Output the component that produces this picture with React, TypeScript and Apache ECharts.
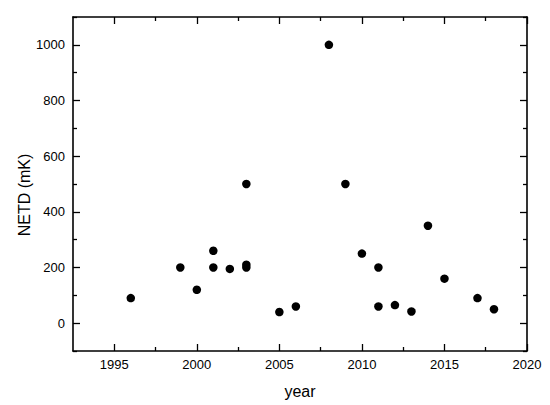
import React, { useEffect, useRef } from "react";
import * as echarts from "echarts";

const years = [1996, 1999, 2000, 2001, 2001, 2002, 2003, 2003, 2003, 2005, 2006, 2008, 2009, 2010, 2011, 2011, 2012, 2013, 2014, 2015, 2017, 2018];
const netd = [90, 200, 120, 260, 200, 195, 210, 200, 500, 40, 60, 1000, 500, 250, 200, 60, 65, 42, 350, 160, 90, 50];
const xMajor = [1995, 2000, 2005, 2010, 2015, 2020];
const xMinor = [1997.5, 2002.5, 2007.5, 2012.5, 2017.5];
const yMajor = [0, 200, 400, 600, 800, 1000];
const yMinor = [-100, 100, 300, 500, 700, 900, 1100];

const FONT = "Liberation Sans";

export default function App() {
  const ref = useRef<HTMLDivElement>(null);
  useEffect(() => {
    if (!ref.current) return;
    const chart = echarts.init(ref.current, undefined, { renderer: "svg" });
    const lineStyle = { color: "#000", width: 1.6 };
    const fmt = (v: number) => String(v);
    const mkX = (pos: string, ticks: number[], len: number, labels: boolean, line: boolean, name?: string) => ({
      type: "value",
      position: pos,
      min: 1992.5,
      max: 2020,
      name,
      nameLocation: "middle",
      nameGap: 32,
      nameTextStyle: { fontFamily: FONT, fontSize: 16, color: "#000" },
      axisLine: { show: line, onZero: false, lineStyle },
      axisTick: { show: true, inside: true, length: len, customValues: ticks, lineStyle: { color: "#000", width: 1.3 } },
      axisLabel: { show: labels, customValues: xMajor, formatter: fmt, fontFamily: FONT, fontSize: 13, color: "#000", margin: 7 },
      splitLine: { show: false },
    });
    const mkY = (pos: string, ticks: number[], len: number, labels: boolean, line: boolean) => ({
      type: "value",
      position: pos,
      min: -100,
      max: 1100,
      axisLine: { show: line, onZero: false, lineStyle },
      axisTick: { show: true, inside: true, length: len, customValues: ticks, lineStyle: { color: "#000", width: 1.3 } },
      axisLabel: { show: labels, customValues: yMajor, formatter: fmt, fontFamily: FONT, fontSize: 13, color: "#000", margin: 8 },
      splitLine: { show: false },
    });
    chart.setOption({
      animation: false,
      grid: { left: 73, right: 23, top: 17, bottom: 54, containLabel: false },
      graphic: [
        {
          type: "text",
          x: 24,
          y: 195,
          rotation: Math.PI / 2,
          style: { text: "NETD (mK)", font: `16px "${FONT}"`, fill: "#000", align: "center", verticalAlign: "middle" },
        },
      ],
      xAxis: [
        mkX("bottom", xMajor, 7, true, true, "year"),
        mkX("bottom", xMinor, 4, false, false),
        mkX("top", xMajor, 7, false, true),
        mkX("top", xMinor, 4, false, false),
      ],
      yAxis: [
        mkY("left", yMajor, 7, true, true),
        mkY("left", yMinor, 4, false, false),
        mkY("right", yMajor, 7, false, true),
        mkY("right", yMinor, 4, false, false),
      ],
      series: [
        {
          type: "scatter",
          xAxisIndex: 0,
          yAxisIndex: 0,
          symbol: "circle",
          symbolSize: 8.5,
          itemStyle: { color: "#000", opacity: 1 },
          data: years.map((y, i) => [y, netd[i]]),
        },
      ],
    });
    return () => chart.dispose();
  }, []);
  return <div ref={ref} style={{ position: "absolute", left: 0, top: 0, width: 550, height: 405 }} />;
}
